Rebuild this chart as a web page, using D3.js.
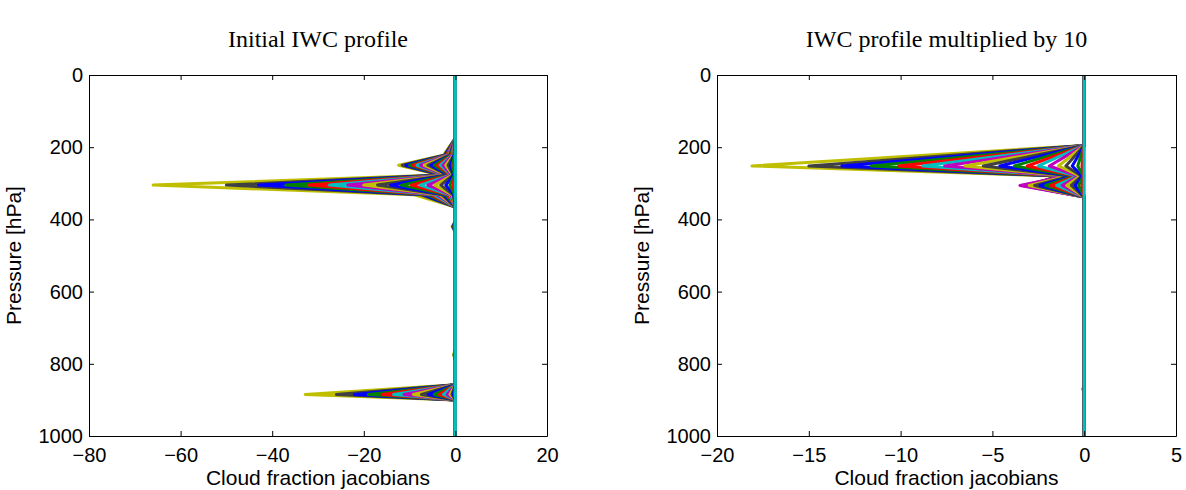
<!DOCTYPE html>
<html>
<head>
<meta charset="utf-8">
<script src="https://cdn.jsdelivr.net/npm/d3@7"></script>
<style>
  body { margin: 0; background: #fff; }
  .tick text { font-family: "Liberation Sans", Arial, sans-serif; font-size: 20px; fill: #000; }
  .axis path, .axis line { stroke: #000; }
</style>
</head>
<body>
<div id="chart"></div>
<script>
// MATLAB default colour order, started so the outermost profile is olive
const colorCycle = ["#bfbf00", "#404040", "#0000ff", "#008000", "#ff0000", "#00bfbf", "#bf00bf"];

// ---- left panel: initial IWC profile ----
const titleL = "Initial IWC profile";
const xTicksL = [-80, -60, -40, -20, 0, 20];
const presL = [0, 175, 222, 250, 277, 305, 332, 366, 405, 420, 435, 760, 775, 790, 858, 885, 900, 1000];
// jacobian values per line (outermost first) at the levels where they are non zero
const jacL222 = [-2.6, -2.4, -2.2, -2, -1.9, -1.7, -1.6, -1.4, -1.3, -1.1, -1, -0.85, -0.7, -0.6, -0.45, -0.35, -0.25, -0.15, -0.05, 0];
const jacL250 = [-12.4, -11.6, -10.8, -10, -9.2, -8.4, -7.6, -6.8, -6, -5.3, -4.6, -3.9, -3.3, -2.7, -2.1, -1.6, -1.1, -0.7, -0.3, 0];
const jacL277 = [-3.3, -3.1, -2.9, -2.7, -2.5, -2.3, -2.1, -1.9, -1.7, -1.5, -1.3, -1.1, -0.95, -0.8, -0.65, -0.5, -0.35, -0.2, -0.1, 0];
const jacL305 = [-66, -50, -43, -37, -32, -27.5, -23.5, -20, -17, -14.2, -11.8, -9.6, -7.7, -6, -4.5, -3.2, -2.1, -1.2, -0.5, 0];
const jacL332 = [-9, -7.5, -6.8, -6, -5.3, -4.6, -4, -3.4, -2.9, -2.4, -2, -1.6, -1.25, -0.95, -0.7, -0.5, -0.3, -0.15, -0.05, 0];
const jacL420 = [-0.7, -0.6, -0.5, -0.4, -0.3, -0.2, -0.1, -0.05, 0, 0, 0, 0, 0, 0, 0, 0, 0, 0, 0, 0];
const jacL775 = [-0.4, -0.3, -0.2, -0.1, -0.05, 0, 0, 0, 0, 0, 0, 0, 0, 0, 0, 0, 0, 0, 0, 0];
const jacL885 = [-32.8, -26, -22, -19, -16, -13.5, -11.2, -9.2, -7.4, -5.9, -4.6, -3.5, -2.6, -1.8, -1.2, -0.75, -0.4, -0.2, -0.08, 0];

// ---- right panel: IWC profile multiplied by 10 ----
const titleR = "IWC profile multiplied by 10";
const xTicksR = [-20, -15, -10, -5, 0, 5];
const presR = [0, 195, 252, 280, 306, 338, 860, 870, 880, 1000];
const jacR252 = [-18.1, -15, -13.2, -11.6, -10.1, -8.8, -7.6, -6.5, -5.5, -4.6, -3.8, -3.1, -2.5, -1.9, -1.4, -1.0, -0.65, -0.35, -0.12, 0];
const jacR280 = [-1.5, -1.4, -1.3, -1.2, -1.1, -1.0, -0.95, -0.85, -0.75, -0.65, -0.55, -0.45, -0.38, -0.3, -0.22, -0.15, -0.1, -0.05, -0.02, 0];
const jacR306 = [-2.9, -3.0, -3.1, -3.2, -3.3, -3.35, -3.5, -3.0, -2.7, -2.4, -2.1, -1.8, -1.5, -1.2, -0.95, -0.7, -0.5, -0.3, -0.12, 0];
const jacR870 = [-0.08, -0.06, -0.04, 0, 0, 0, 0, 0, 0, 0, 0, 0, 0, 0, 0, 0, 0, 0, 0, 0];

const yTicks = [0, 200, 400, 600, 800, 1000];

const width = 1186, height = 490;
const plotTop = 75, plotBottom = 436;

const svg = d3.select("#chart").append("svg")
    .attr("width", width)
    .attr("height", height)
    .style("background", "#fff");

function drawPanel(opts) {
    let x = d3.scaleLinear().domain(opts.xDomain).range([opts.left, opts.right]);
    let y = d3.scaleLinear().domain([0, 1000]).range([plotTop, plotBottom]);

    let g = svg.append("g");

    // build one profile per line from the level columns
    let nLines = opts.cols[Object.keys(opts.cols)[0]].length;
    let profiles = d3.range(nLines).map(function (i) {
        return opts.pres.map(function (p) {
            return { p: p, v: opts.cols[p] ? opts.cols[p][i] : 0 };
        });
    });

    let line = d3.line()
        .x(function (d) { return x(d.v); })
        .y(function (d) { return y(d.p); });

    g.selectAll("path.prof")
        .data(profiles)
        .enter()
        .append("path")
        .attr("class", "prof")
        .attr("d", line)
        .attr("fill", "none")
        .attr("stroke", function (d, i) { return colorCycle[i % colorCycle.length]; })
        .attr("stroke-width", 3)
        .attr("stroke-linejoin", "round");

    // axes, ticks pointing inwards like matlab
    g.append("g").attr("class", "axis")
        .attr("transform", `translate(0,${plotBottom})`)
        .call(d3.axisBottom(x).tickValues(opts.xTicks).tickSizeInner(-5).tickSizeOuter(0).tickPadding(12));
    g.append("g").attr("class", "axis")
        .attr("transform", `translate(0,${plotTop})`)
        .call(d3.axisTop(x).tickValues(opts.xTicks).tickSizeInner(-5).tickSizeOuter(0).tickFormat(""));
    g.append("g").attr("class", "axis")
        .attr("transform", `translate(${opts.left},0)`)
        .call(d3.axisLeft(y).tickValues(yTicks).tickFormat(d3.format("d")).tickSizeInner(-5).tickSizeOuter(0).tickPadding(6));
    g.append("g").attr("class", "axis")
        .attr("transform", `translate(${opts.right},0)`)
        .call(d3.axisRight(y).tickValues(yTicks).tickSizeInner(-5).tickSizeOuter(0).tickFormat(""));

    g.append("text")
        .attr("x", (opts.left + opts.right) / 2)
        .attr("y", 47)
        .style("text-anchor", "middle")
        .style("font-family", "'Liberation Serif', 'Times New Roman', serif")
        .style("font-size", "24px")
        .text(opts.title);

    g.append("text")
        .attr("x", (opts.left + opts.right) / 2)
        .attr("y", 485)
        .style("text-anchor", "middle")
        .style("font-family", "'Liberation Sans', Arial, sans-serif")
        .style("font-size", "21px")
        .text("Cloud fraction jacobians");

    g.append("text")
        .attr("transform", `translate(${opts.left - 68},${(plotTop + plotBottom) / 2}) rotate(-90)`)
        .style("text-anchor", "middle")
        .style("font-family", "'Liberation Sans', Arial, sans-serif")
        .style("font-size", "21px")
        .text("Pressure [hPa]");
}

drawPanel({
    title: titleL, xDomain: [-80, 20], left: 89, right: 547, xTicks: xTicksL, pres: presL,
    cols: { 222: jacL222, 250: jacL250, 277: jacL277, 305: jacL305, 332: jacL332, 420: jacL420, 775: jacL775, 885: jacL885 }
});
drawPanel({
    title: titleR, xDomain: [-20, 5], left: 717, right: 1176, xTicks: xTicksR, pres: presR,
    cols: { 252: jacR252, 280: jacR280, 306: jacR306, 870: jacR870 }
});
</script>
</body>
</html>
